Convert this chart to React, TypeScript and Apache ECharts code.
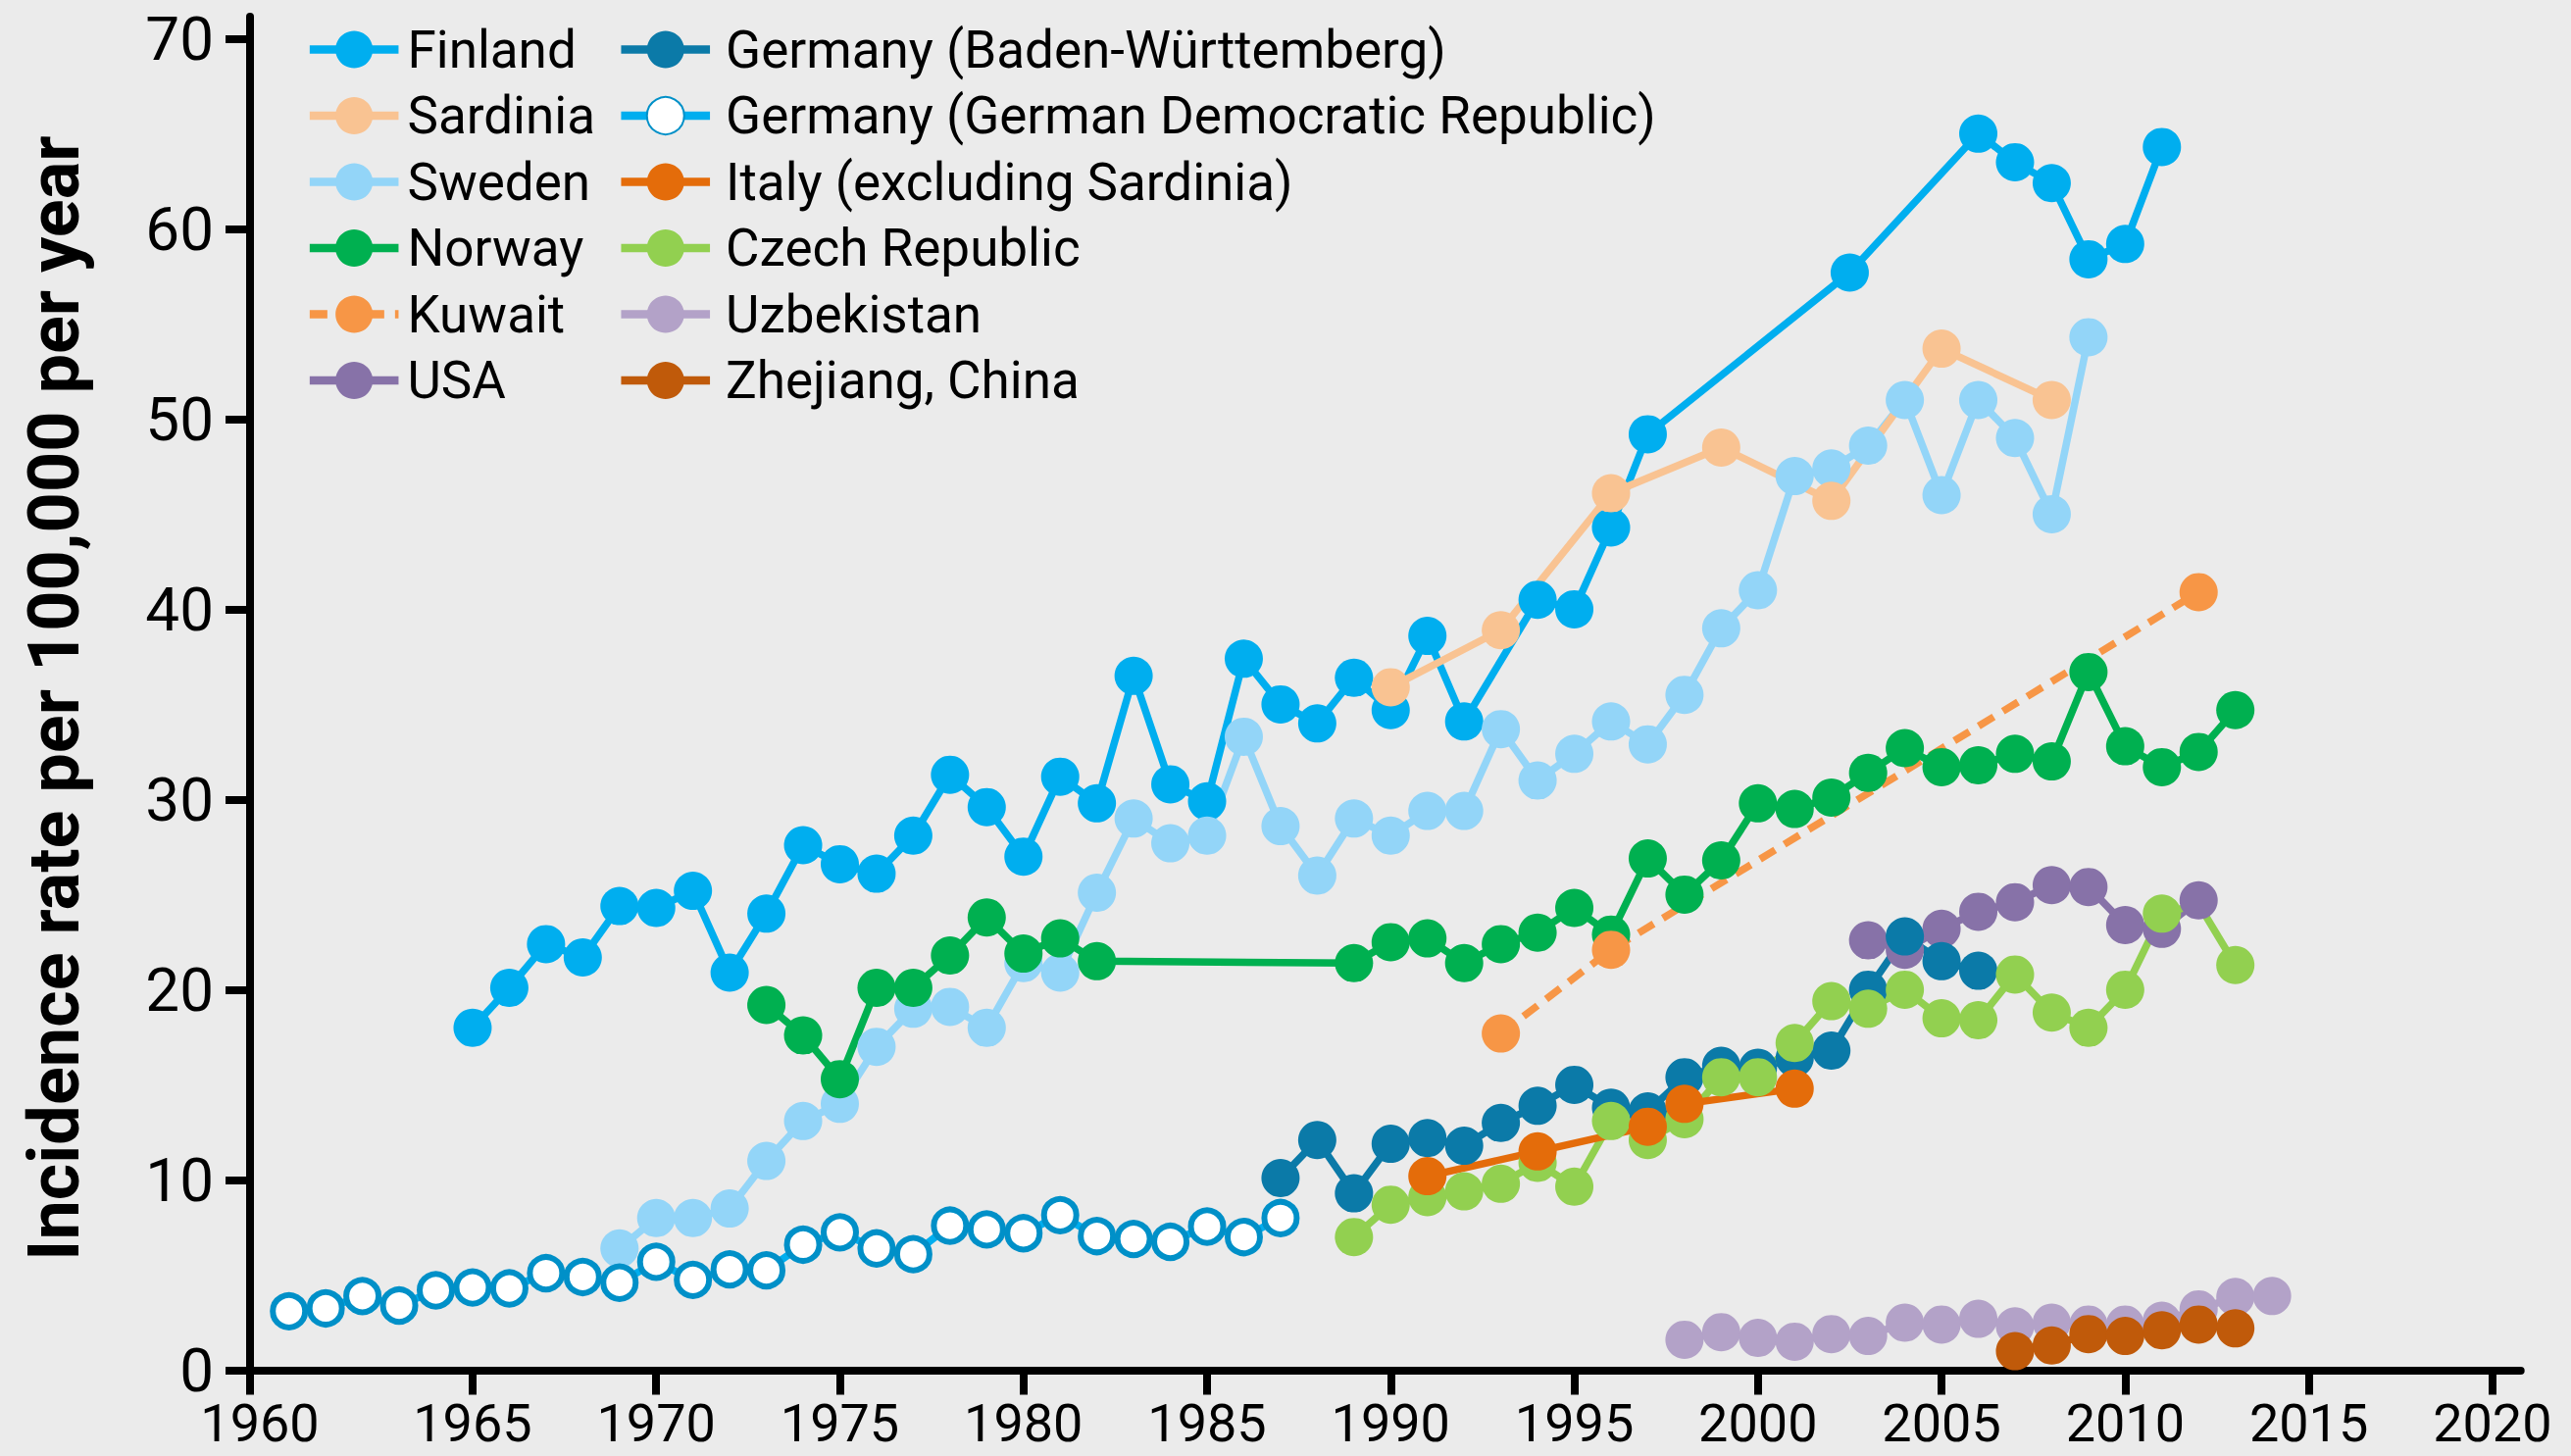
import React, { useEffect, useRef } from "react";
import * as echarts from "echarts";

// Axis extents and ticks (the reference's origin tick is labelled 1960)
const X_MIN = 1958.94;
const X_MAX = 2020.77;
const Y_MAX = 71.15;
const xTickValues = [X_MIN, 1965, 1970, 1975, 1980, 1985, 1990, 1995, 2000, 2005, 2010, 2015, 2020];
const xTickLabels = ["1960", "1965", "1970", "1975", "1980", "1985", "1990", "1995", "2000", "2005", "2010", "2015", "2020"];
const yTickValues = [0, 10, 20, 30, 40, 50, 60, 70];
const yTitle = "Incidence rate per 100,000 per year";

// Series data: [year, incidence]
const finland: [number, number][] = [
  [1965, 18.0], [1966, 20.1], [1967, 22.4], [1968, 21.7], [1969, 24.4], [1970, 24.3], [1971, 25.2],
  [1972, 20.9], [1973, 24.0], [1974, 27.6], [1975, 26.6], [1976, 26.1], [1977, 28.1], [1978, 31.3],
  [1979, 29.6], [1980, 27.0], [1981, 31.2], [1982, 29.8], [1983, 36.5], [1984, 30.8], [1985, 29.9],
  [1986, 37.4], [1987, 35.0], [1988, 34.0], [1989, 36.4], [1990, 34.7], [1991, 38.6], [1992, 34.1],
  [1994, 40.5], [1995, 40.0], [1996, 44.3], [1997, 49.2], [2002.5, 57.7], [2006, 65.0], [2007, 63.5],
  [2008, 62.4], [2009, 58.4], [2010, 59.2], [2011, 64.3],
];
const sardinia: [number, number][] = [
  [1990, 35.9], [1993, 38.9], [1996, 46.1], [1999, 48.5], [2002, 45.7], [2005, 53.7], [2008, 51.0],
];
const sweden: [number, number][] = [
  [1969, 6.4], [1970, 8.0], [1971, 8.0], [1972, 8.5], [1973, 11.0], [1974, 13.1], [1975, 14.0],
  [1976, 17.0], [1977, 19.0], [1978, 19.1], [1979, 18.0], [1980, 21.4], [1981, 20.9], [1982, 25.1],
  [1983, 29.0], [1984, 27.7], [1985, 28.1], [1986, 33.3], [1987, 28.6], [1988, 26.0], [1989, 29.0],
  [1990, 28.1], [1991, 29.4], [1992, 29.4], [1993, 33.7], [1994, 31.0], [1995, 32.4], [1996, 34.1],
  [1997, 32.9], [1998, 35.5], [1999, 39.0], [2000, 41.0], [2001, 47.0], [2002, 47.4], [2003, 48.6],
  [2004, 51.0], [2005, 46.0], [2006, 51.0], [2007, 49.0], [2008, 45.0], [2009, 54.3],
];
const norway: [number, number][] = [
  [1973, 19.2], [1974, 17.6], [1975, 15.3], [1976, 20.1], [1977, 20.1], [1978, 21.8], [1979, 23.8],
  [1980, 21.9], [1981, 22.7], [1982, 21.5], [1989, 21.4], [1990, 22.5], [1991, 22.7], [1992, 21.4],
  [1993, 22.4], [1994, 23.0], [1995, 24.3], [1996, 22.9], [1997, 26.9], [1998, 25.0], [1999, 26.8],
  [2000, 29.8], [2001, 29.5], [2002, 30.1], [2003, 31.4], [2004, 32.7], [2005, 31.7], [2006, 31.8],
  [2007, 32.4], [2008, 32.0], [2009, 36.7], [2010, 32.8], [2011, 31.7], [2012, 32.5], [2013, 34.7],
];
const kuwait: [number, number][] = [[1993, 17.7], [1996, 22.1], [2012, 40.9]];
const usa: [number, number][] = [
  [2003, 22.6], [2004, 22.1], [2005, 23.2], [2006, 24.1], [2007, 24.6], [2008, 25.5], [2009, 25.4],
  [2010, 23.4], [2011, 23.2], [2012, 24.7],
];
const badenWurttemberg: [number, number][] = [
  [1987, 10.1], [1988, 12.1], [1989, 9.3], [1990, 11.9], [1991, 12.2], [1992, 11.8], [1993, 13.0],
  [1994, 13.9], [1995, 15.0], [1996, 13.8], [1997, 13.6], [1998, 15.4], [1999, 16.0], [2000, 15.9],
  [2001, 16.4], [2002, 16.8], [2003, 20.0], [2004, 22.8], [2005, 21.5], [2006, 21.0],
];
const gdr: [number, number][] = [
  [1960, 3.1], [1961, 3.25], [1962, 3.9], [1963, 3.4], [1964, 4.2], [1965, 4.35], [1966, 4.3],
  [1967, 5.1], [1968, 4.9], [1969, 4.6], [1970, 5.7], [1971, 4.75], [1972, 5.3], [1973, 5.25],
  [1974, 6.6], [1975, 7.25], [1976, 6.4], [1977, 6.1], [1978, 7.6], [1979, 7.4], [1980, 7.2],
  [1981, 8.15], [1982, 7.05], [1983, 6.9], [1984, 6.75], [1985, 7.55], [1986, 7.0], [1987, 8.0],
];
const italy: [number, number][] = [[1991, 10.2], [1994, 11.5], [1997, 12.8], [1998, 14.0], [2001, 14.8]];
const czech: [number, number][] = [
  [1989, 7.0], [1990, 8.7], [1991, 9.1], [1992, 9.4], [1993, 9.8], [1994, 10.9], [1995, 9.65],
  [1996, 13.1], [1997, 12.1], [1998, 13.2], [1999, 15.4], [2000, 15.4], [2001, 17.2], [2002, 19.4],
  [2003, 19.0], [2004, 20.0], [2005, 18.5], [2006, 18.4], [2007, 20.8], [2008, 18.8], [2009, 18.0],
  [2010, 20.0], [2011, 24.0], [2012, 24.5], [2013, 21.3],
];
const czechNoMarkerYears = [2012];
const uzbekistan: [number, number][] = [
  [1998, 1.6], [1999, 2.0], [2000, 1.7], [2001, 1.5], [2002, 1.9], [2003, 1.8], [2004, 2.5],
  [2005, 2.4], [2006, 2.7], [2007, 2.3], [2008, 2.5], [2009, 2.4], [2010, 2.4], [2011, 2.6],
  [2012, 3.2], [2013, 3.85], [2014, 3.9],
];
const zhejiang: [number, number][] = [
  [2007, 1.0], [2008, 1.3], [2009, 1.9], [2010, 1.8], [2011, 2.1], [2012, 2.4], [2013, 2.2],
];

const legendCol1 = ["Finland", "Sardinia", "Sweden", "Norway", "Kuwait", "USA"];
const legendCol2 = [
  "Germany (Baden-Württemberg)",
  "Germany (German Democratic Republic)",
  "Italy (excluding Sardinia)",
  "Czech Republic",
  "Uzbekistan",
  "Zhejiang, China",
];

const FONT = "Roboto";

function mk(name: string, data: any[], color: string, extra: any = {}) {
  return {
    type: "line",
    name,
    data,
    symbol: "circle",
    symbolSize: 39,
    showSymbol: true,
    silent: true,
    emphasis: { disabled: true },
    itemStyle: { color, borderWidth: 0, opacity: 1 },
    lineStyle: { color, width: 7.5, type: "solid" },
    ...extra,
  };
}

export default function App() {
  const ref = useRef<HTMLDivElement>(null);
  useEffect(() => {
    if (!ref.current) return;
    const chart = echarts.init(ref.current, undefined, { renderer: "svg" });
    const czechData = czech.map((p) =>
      czechNoMarkerYears.includes(p[0]) ? { value: p, symbol: "none" } : { value: p }
    );
    const series = [
      mk("Finland", finland, "#00aeef"),
      mk("Sweden", sweden, "#93d5f8"),
      mk("Sardinia", sardinia, "#f9c392"),
      mk("Norway", norway, "#00b050"),
      mk("Kuwait", kuwait, "#f79646", { lineStyle: { color: "#f79646", width: 7.5, type: [18, 11] } }),
      mk("USA", usa, "#8772a8"),
      mk("Germany (Baden-Württemberg)", badenWurttemberg, "#0b7aa8"),
      mk("Czech Republic", czechData, "#92d050"),
      mk("Italy (excluding Sardinia)", italy, "#e46c0a"),
      mk("Germany (German Democratic Republic)", gdr, "#00aeef", {
        symbolSize: 33,
        itemStyle: { color: "#ffffff", borderColor: "#0090c8", borderWidth: 6, opacity: 1 },
        lineStyle: { color: "#00aeef", width: 7.5, type: "solid" },
      }),
      mk("Uzbekistan", uzbekistan, "#b3a2c8"),
      mk("Zhejiang, China", zhejiang, "#c05a0a"),
    ];
    const legendBase = {
      orient: "vertical",
      top: 24,
      itemWidth: 90.6,
      itemHeight: 47.5,
      itemGap: 14.5,
      padding: 0,
      selectedMode: false,
      lineStyle: { width: 8.3 },
    };
    chart.setOption({
      animation: false,
      backgroundColor: "#ebebeb",
      grid: { left: 255, right: 51.3, top: 17, bottom: 87.5, containLabel: false },
      xAxis: {
        type: "value",
        min: X_MIN,
        max: X_MAX,
        splitLine: { show: false },
        axisLine: { show: true, onZero: false, lineStyle: { color: "#000", width: 8 } },
        axisTick: {
          show: true,
          customValues: xTickValues,
          length: 25,
          lineStyle: { color: "#000", width: 8 },
        },
        axisLabel: {
          customValues: xTickValues,
          showMinLabel: true,
          showMaxLabel: true,
          formatter: (v: number) => {
            const i = xTickValues.findIndex((t) => Math.abs(t - v) < 1e-6);
            if (i < 0) return "";
            return i === 0 ? "{o|" + xTickLabels[i] + "}" : xTickLabels[i];
          },
          rich: {
            o: {
              fontSize: 54,
              lineHeight: 40,
              fontFamily: FONT,
              color: "#000",
              padding: [0, 0, 0, 20],
            },
          },
          fontSize: 54,
          lineHeight: 40,
          fontFamily: FONT,
          color: "#000",
          margin: 34,
        },
      },
      yAxis: {
        type: "value",
        min: 0,
        max: Y_MAX,
        splitLine: { show: false },
        axisLine: { show: true, onZero: false, lineStyle: { color: "#000", width: 8 } },
        axisTick: {
          show: true,
          customValues: yTickValues,
          length: 25,
          lineStyle: { color: "#000", width: 8 },
        },
        axisLabel: {
          customValues: yTickValues,
          showMinLabel: true,
          showMaxLabel: true,
          fontSize: 62,
          fontFamily: FONT,
          color: "#000",
          margin: 37,
        },
      },
      legend: [
        {
          ...legendBase,
          left: 311.7,
          data: legendCol1,
          textStyle: { fontSize: 53, fontFamily: FONT, color: "#000", padding: [0, 0, 0, 4] },
        },
        {
          ...legendBase,
          left: 629.3,
          data: legendCol2,
          textStyle: { fontSize: 53, fontFamily: FONT, color: "#000", padding: [0, 0, 0, 11] },
        },
      ],
      graphic: [
        {
          type: "text",
          x: 55,
          y: 712,
          rotation: Math.PI / 2,
          silent: true,
          style: {
            text: yTitle,
            fontSize: 72,
            fontWeight: "bold",
            fontFamily: FONT,
            fill: "#000",
            align: "center",
            verticalAlign: "middle",
          },
        },
      ],
      series,
    });
    return () => chart.dispose();
  }, []);
  return (
    <div
      ref={ref}
      style={{ position: "fixed", left: 0, top: 0, width: 2622, height: 1485 }}
    />
  );
}
